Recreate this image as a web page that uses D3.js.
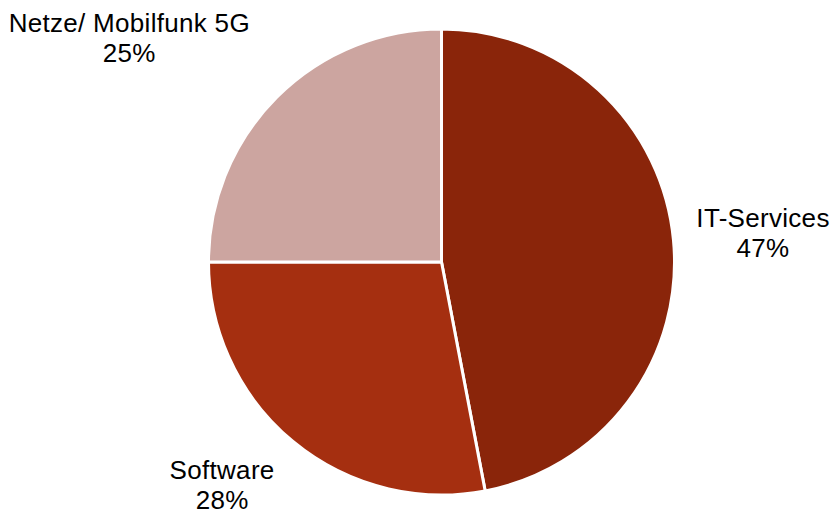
<!DOCTYPE html>
<meta charset="utf-8">
<style>
  body { margin: 0; background: #fff; }
  text { font-family: "Liberation Sans", Arial, sans-serif; font-size: 26px; letter-spacing: 0.3px; fill: #000; }
</style>
<body>
<script src="https://d3js.org/d3.v7.min.js"></script>
<script>
// data
var categories = ["IT-Services", "Software", "Netze/ Mobilfunk 5G"];
var shares = [47, 28, 25];
var colors = ["#8a250a", "#a52f10", "#cca5a0"];

var width = 832, height = 510;
var cx = 441.5, cy = 262, radius = 233;

var svg = d3.select("body").append("svg")
    .attr("width", width)
    .attr("height", height);

var data = categories.map(function(c, i) { return {name: c, value: shares[i], color: colors[i]}; });

var pie = d3.pie()
    .sort(null)
    .value(function(d) { return d.value; });

var arc = d3.arc().innerRadius(0).outerRadius(radius);

var g = svg.append("g").attr("transform", "translate(" + cx + "," + cy + ")");

var arcs = pie(data);

g.selectAll("path")
  .data(arcs)
  .enter().append("path")
    .attr("d", arc)
    .attr("fill", function(d) { return d.data.color; })
    .attr("stroke", "#fff")
    .attr("stroke-width", 3)
    .attr("stroke-linejoin", "miter");

// labels placed outside, near the slice's mid angle
var lineH = 30;
var labelR = radius + 21;
// small nudges, like excel's best-fit placement
var nudge = [[2, -6], [-5, 4], [-12, -15]];

arcs.forEach(function(d, i) {
  var a = (d.startAngle + d.endAngle) / 2;
  var x = Math.sin(a) * labelR, y = -Math.cos(a) * labelR;
  var anchor = x > 0 ? "start" : "end";
  var top;
  if (y < -radius * 0.5) top = y - lineH * 2 + 8;
  else if (y > radius * 0.5) top = y;
  else top = y - lineH + 8;
  x += nudge[i][0]; top += nudge[i][1];
  var t = g.append("text")
      .attr("text-anchor", "middle");
  // work out the block width to center the two lines
  var tmp = g.append("text").text(d.data.name);
  var w = tmp.node().getComputedTextLength();
  tmp.remove();
  var mid = anchor === "start" ? x + w / 2 : x - w / 2;
  t.append("tspan").attr("x", mid).attr("y", top + 17).text(d.data.name);
  t.append("tspan").attr("x", mid).attr("y", top + 17 + lineH).text(d.data.value + "%");
});
</script>
</body>
